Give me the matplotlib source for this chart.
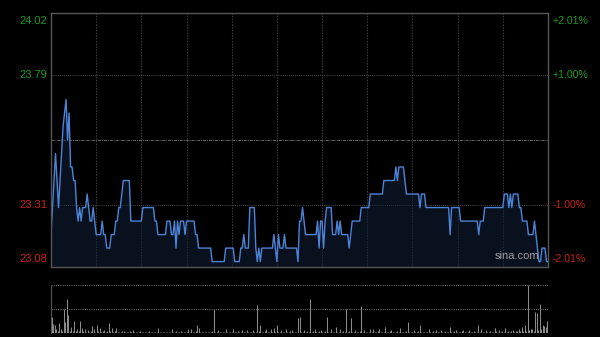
import numpy as np
import matplotlib
matplotlib.use('Agg')
import matplotlib.pyplot as plt

plt.rcParams['font.family'] = ['Liberation Sans', 'DejaVu Sans']

# 分时价格 (每分钟一个点, 0..330)
prices = [
    23.20, 23.30, 23.40, 23.50, 23.40, 23.30, 23.40, 23.50, 23.60, 23.65,
    23.70, 23.55, 23.65, 23.45, 23.45, 23.40, 23.40, 23.30, 23.25, 23.30,
    23.25, 23.30, 23.30, 23.30, 23.35, 23.30, 23.25, 23.25, 23.30, 23.25,
    23.20, 23.20, 23.20, 23.20, 23.25, 23.20, 23.20, 23.15, 23.15, 23.15,
    23.20, 23.20, 23.20, 23.25, 23.25, 23.30, 23.30, 23.35, 23.40, 23.40,
    23.40, 23.40, 23.40, 23.25, 23.25, 23.25, 23.25, 23.25, 23.25, 23.25,
    23.25, 23.30, 23.30, 23.30, 23.30, 23.30, 23.30, 23.30, 23.30, 23.25,
    23.25, 23.20, 23.20, 23.20, 23.20, 23.20, 23.20, 23.25, 23.25, 23.25,
    23.20, 23.20, 23.25, 23.15, 23.25, 23.20, 23.25, 23.25, 23.25, 23.20,
    23.25, 23.25, 23.25, 23.25, 23.25, 23.25, 23.20, 23.20, 23.15, 23.15,
    23.15, 23.15, 23.15, 23.15, 23.15, 23.15, 23.15, 23.10, 23.10, 23.10,
    23.10, 23.10, 23.10, 23.10, 23.10, 23.10, 23.15, 23.15, 23.15, 23.15,
    23.15, 23.15, 23.10, 23.10, 23.10, 23.10, 23.15, 23.15, 23.20, 23.15,
    23.15, 23.15, 23.30, 23.30, 23.30, 23.30, 23.15, 23.10, 23.15, 23.10,
    23.15, 23.15, 23.15, 23.15, 23.15, 23.15, 23.15, 23.15, 23.20, 23.15,
    23.10, 23.20, 23.15, 23.15, 23.15, 23.20, 23.15, 23.15, 23.15, 23.15,
    23.15, 23.15, 23.15, 23.15, 23.10, 23.25, 23.25, 23.30, 23.25, 23.20,
    23.20, 23.20, 23.20, 23.20, 23.20, 23.20, 23.20, 23.25, 23.15, 23.25,
    23.25, 23.15, 23.25, 23.30, 23.30, 23.30, 23.30, 23.20, 23.20, 23.20,
    23.25, 23.20, 23.25, 23.20, 23.20, 23.20, 23.20, 23.20, 23.15, 23.20,
    23.25, 23.25, 23.25, 23.25, 23.25, 23.25, 23.30, 23.30, 23.30, 23.30,
    23.30, 23.30, 23.35, 23.35, 23.35, 23.35, 23.35, 23.35, 23.35, 23.35,
    23.35, 23.40, 23.40, 23.40, 23.40, 23.40, 23.40, 23.40, 23.40, 23.45,
    23.40, 23.45, 23.45, 23.45, 23.45, 23.40, 23.35, 23.35, 23.35, 23.35,
    23.35, 23.35, 23.35, 23.35, 23.35, 23.30, 23.35, 23.35, 23.35, 23.30,
    23.30, 23.30, 23.30, 23.30, 23.30, 23.30, 23.30, 23.30, 23.30, 23.30,
    23.30, 23.30, 23.30, 23.30, 23.30, 23.20, 23.30, 23.30, 23.30, 23.30,
    23.30, 23.30, 23.25, 23.25, 23.25, 23.25, 23.25, 23.25, 23.25, 23.25,
    23.25, 23.25, 23.25, 23.25, 23.20, 23.25, 23.25, 23.25, 23.30, 23.30,
    23.30, 23.30, 23.30, 23.30, 23.30, 23.30, 23.30, 23.30, 23.30, 23.30,
    23.30, 23.35, 23.35, 23.35, 23.30, 23.35, 23.30, 23.35, 23.35, 23.35,
    23.35, 23.30, 23.30, 23.25, 23.25, 23.25, 23.25, 23.20, 23.20, 23.20,
    23.20, 23.25, 23.20, 23.15, 23.10, 23.10, 23.15, 23.15, 23.15, 23.10,
    23.10,
]

# 成交量 (相对值)
volumes = [
    33, 17, 15, 8, 4, 20, 8, 3, 50, 22, 70, 37, 4, 12, 3, 24, 3, 8, 3, 24,
    9, 3, 8, 2, 5, 2, 3, 13, 8, 2, 15, 3, 9, 2, 3, 5, 2, 3, 19, 3,
    10, 2, 3, 9, 2, 1, 2, 3, 4, 2, 1, 2, 3, 2, 6, 1, 2, 1, 2, 3,
    1, 2, 1, 2, 1, 3, 1, 2, 1, 2, 1, 10, 2, 1, 2, 1, 2, 1, 2, 1,
    8, 2, 1, 3, 1, 2, 3, 1, 2, 1, 2, 8, 1, 8, 2, 1, 3, 15, 9, 2,
    1, 2, 1, 2, 1, 2, 1, 3, 50, 2, 1, 5, 2, 1, 2, 1, 8, 2, 1, 2,
    1, 8, 2, 1, 3, 1, 2, 6, 1, 2, 6, 1, 2, 1, 6, 2, 1, 58, 3, 15,
    2, 1, 3, 8, 2, 1, 7, 2, 9, 1, 15, 2, 1, 5, 2, 1, 8, 2, 1, 3,
    5, 2, 1, 2, 30, 33, 2, 1, 5, 2, 3, 1, 70, 2, 3, 7, 2, 1, 3, 5,
    2, 1, 3, 33, 2, 1, 8, 2, 1, 12, 2, 1, 8, 2, 3, 1, 50, 2, 3, 30,
    2, 1, 6, 2, 1, 3, 56, 2, 5, 1, 2, 1, 8, 2, 7, 1, 2, 3, 8, 2,
    1, 2, 12, 2, 1, 3, 5, 2, 1, 2, 3, 1, 9, 2, 1, 2, 3, 22, 2, 1,
    2, 5, 1, 2, 3, 15, 2, 1, 2, 1, 2, 8, 1, 2, 3, 1, 6, 2, 1, 6,
    2, 1, 3, 1, 2, 12, 1, 2, 3, 5, 2, 1, 2, 3, 5, 1, 2, 1, 6, 2,
    1, 3, 2, 1, 15, 2, 7, 1, 2, 6, 1, 2, 3, 1, 2, 10, 3, 1, 5, 2,
    3, 2, 10, 1, 3, 2, 4, 5, 2, 3, 3, 8, 4, 12, 3, 15, 4, 100, 5, 8,
    8, 4, 44, 41, 6, 60, 7, 15, 13, 12, 25,
]

prev_close = 23.55
left_ticks = [24.02, 23.79, 23.31, 23.08]
left_labels = ['24.02', '23.79', '23.31', '23.08']
right_labels = ['+2.01%', '+1.00%', '-1.00%', '-2.01%']
label_colors = ['#1e9a1e', '#1e9a1e', '#cc1f1f', '#cc1f1f']

minutes = np.arange(len(prices))
t_max = 330

fig = plt.figure(figsize=(6, 3.37), dpi=100, facecolor='black')

# 价格图
ax = fig.add_axes([51 / 600, 70 / 337, 497 / 600, 254 / 337], facecolor='black')
ax.set_xlim(0, t_max)
ax.set_ylim(left_ticks[-1], left_ticks[0])
ax.fill_between(minutes, prices, left_ticks[-1], color='#12203a', alpha=0.55, lw=0)
ax.plot(minutes, prices, color='#4d84d8', lw=1.0)

for xv in range(30, t_max, 30):
    ax.axvline(xv, color='#333333', lw=0.8, ls=(0, (1.5, 1)), zorder=0)
for yv in [left_ticks[1], left_ticks[2]]:
    ax.axhline(yv, color='#666666', lw=0.6, ls=(0, (1, 1.5)), zorder=0)
ax.axhline(prev_close, color='#666666', lw=0.7, ls=(0, (3, 1, 1, 1)), zorder=0)

for s in ax.spines.values():
    s.set_color('#555555')
    s.set_linewidth(1.0)
ax.set_xticks([])
ax.set_yticks([])

vas = ['top', 'center', 'center', 'bottom']
for yv, lt, rt, c, va in zip(left_ticks, left_labels, right_labels, label_colors, vas):
    yy = yv - 0.01 if va == 'top' else (yv + 0.01 if va == 'bottom' else yv)
    ax.text(-0.008, yy, lt, transform=ax.get_yaxis_transform(), ha='right',
            va=va, color=c, fontsize=8)
    ax.text(1.009, yy, rt, transform=ax.get_yaxis_transform(), ha='left',
            va=va, color=c, fontsize=7.6)

ax.text(0.938, 0.025, 'sina.com', transform=ax.transAxes, ha='center', va='bottom',
        color='#a0a0a0', fontsize=8)

# 成交量图
vax = fig.add_axes([51 / 600, 4.5 / 337, 497 / 600, 47.5 / 337], facecolor='black')
vax.set_xlim(-0.5, t_max + 0.5)
vax.set_ylim(0, max(volumes))
vax.vlines(minutes, 0, volumes, color='#8a8a8a', lw=0.75)
vax.axhline(max(volumes), color='#666666', lw=0.8, ls=(0, (1, 1)))
vax.axhline(max(volumes) / 2, color='#666666', lw=0.8, ls=(0, (1, 1)))
for k, s in vax.spines.items():
    s.set_visible(k == 'left')
    s.set_color('#555555')
vax.axvline(t_max + 0.5, color='#555555', lw=0.8, ls=(0, (1, 1)))
vax.set_xticks([])
vax.set_yticks([])

fig.savefig('out.png', dpi=100, facecolor='black')
